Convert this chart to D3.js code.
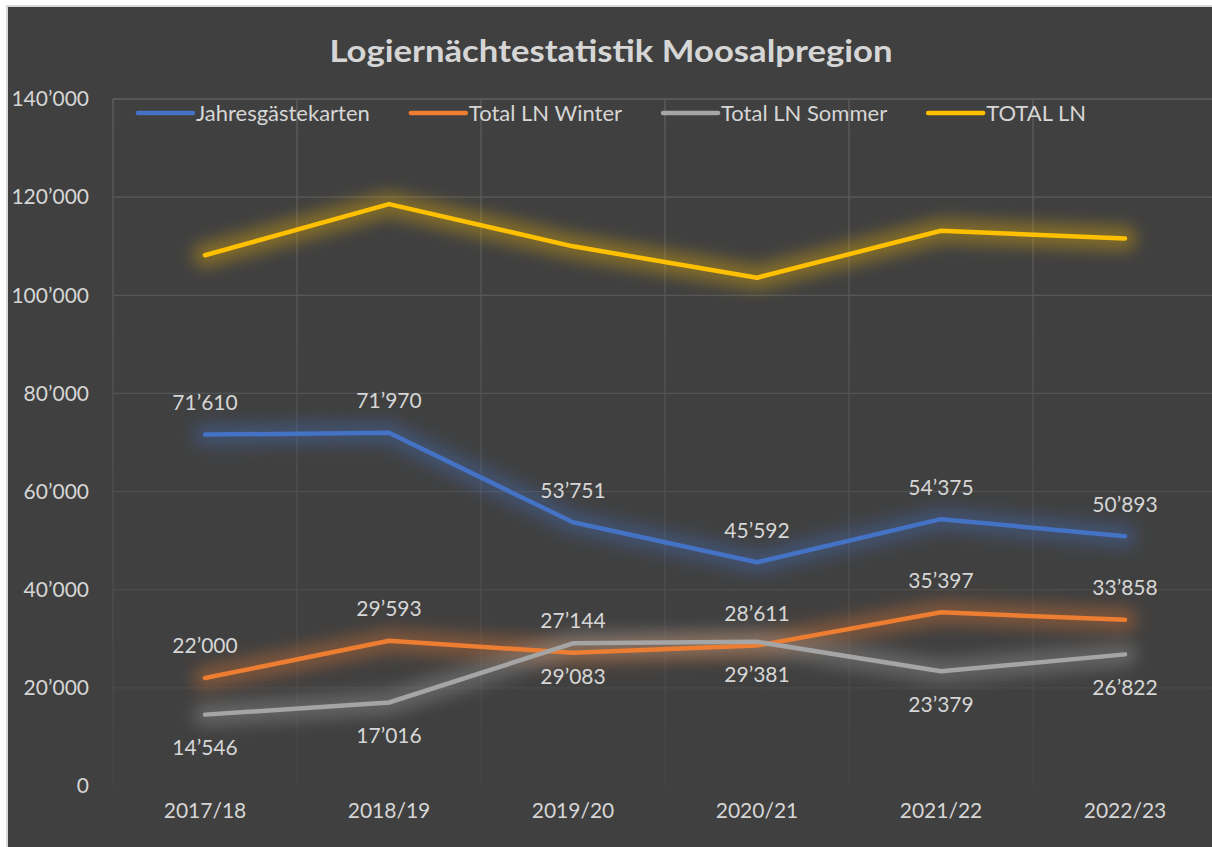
<!DOCTYPE html>
<html>
<head>
<meta charset="utf-8">
<script src="https://cdn.jsdelivr.net/npm/d3@7"></script>
<style>
  body { margin: 0; background: #fff; }
  svg { display: block; }
</style>
</head>
<body>
<svg id="chart" width="1212" height="847"></svg>
<script>
// Daten
const saisons = ["2017/18", "2018/19", "2019/20", "2020/21", "2021/22", "2022/23"];
const jahresgaestekarten = [71610, 71970, 53751, 45592, 54375, 50893];
const winterLN = [22000, 29593, 27144, 28611, 35397, 33858];
const sommerLN = [14546, 17016, 29083, 29381, 23379, 26822];
const totalLN = [108156, 118579, 109978, 103584, 113151, 111573];
const yTicks = [0, 20000, 40000, 60000, 80000, 100000, 120000, 140000];

const serien = [
    { name: "Jahresgästekarten", values: jahresgaestekarten, color: "#4472C4", label: "top" },
    { name: "Total LN Winter", values: winterLN, color: "#ED7D31", label: "top" },
    { name: "Total LN Sommer", values: sommerLN, color: "#A5A5A5", label: "bottom" },
    { name: "TOTAL LN", values: totalLN, color: "#FFC000", label: null }
];

const svg = d3.select("#chart");
const textColor = "#d6d6d6";
const font = "Lato, 'Open Sans', sans-serif";
const fmt = d => d3.format(",")(d).replace(/,/g, "’");

// Hintergrund + Rahmen
svg.append("rect")
    .attr("x", 7).attr("y", 6)
    .attr("width", 1230).attr("height", 860)
    .attr("fill", "#404040")
    .attr("stroke", "#d9d9d9")
    .attr("stroke-width", 2);

const defs = svg.append("defs");
defs.append("filter")
    .attr("id", "glow")
    .attr("x", "-20%").attr("y", "-50%")
    .attr("width", "140%").attr("height", "200%")
    .append("feGaussianBlur")
    .attr("stdDeviation", 8);

const gridGrad = defs.append("linearGradient")
    .attr("id", "gridGrad")
    .attr("gradientUnits", "userSpaceOnUse")
    .attr("x1", 0).attr("x2", 0)
    .attr("y1", 99).attr("y2", 786);
gridGrad.append("stop").attr("offset", "0").attr("stop-color", "#5e5e5e");
gridGrad.append("stop").attr("offset", "1").attr("stop-color", "#454545");

// Skalen
const x = d3.scaleBand()
    .domain(saisons)
    .range([113, 1217])
    .padding(0);
const y = d3.scaleLinear()
    .domain([0, 140000])
    .range([786, 99]);
const cx = (d) => x(d) + x.bandwidth() / 2;

// Gitter
const grid = svg.append("g").attr("stroke", "url(#gridGrad)").attr("stroke-width", 1.3);
grid.selectAll("line.h")
    .data(yTicks.filter(t => t > 0))
    .join("line")
    .attr("class", "h")
    .attr("x1", x.range()[0]).attr("x2", x.range()[1])
    .attr("y1", d => y(d)).attr("y2", d => y(d));
grid.selectAll("line.v")
    .data(saisons.concat(["end"]))
    .join("line")
    .attr("class", "v")
    .attr("x1", (d, i) => x.range()[0] + i * x.bandwidth())
    .attr("x2", (d, i) => x.range()[0] + i * x.bandwidth())
    .attr("y1", y(140000)).attr("y2", y(0));

// Achsen
const yAxis = d3.axisLeft(y)
    .tickValues(yTicks)
    .tickSize(0)
    .tickPadding(0)
    .tickFormat(fmt);
const gy = svg.append("g")
    .attr("transform", "translate(89,0)")
    .call(yAxis);
gy.select(".domain").remove();
gy.selectAll("text")
    .attr("fill", textColor)
    .style("font-family", font)
    .style("font-size", "21px");

const xAxis = d3.axisBottom(x).tickSize(0).tickPadding(0);
const gx = svg.append("g")
    .attr("transform", "translate(0,803)")
    .call(xAxis);
gx.select(".domain").remove();
gx.selectAll("text")
    .attr("fill", textColor)
    .style("font-family", font)
    .style("font-size", "21px");

// Linien
const line = d3.line()
    .x((d, i) => cx(saisons[i]))
    .y(d => y(d));

const serienG = svg.append("g");
serien.forEach(s => {
    serienG.append("path")
        .attr("d", line(s.values))
        .attr("fill", "none")
        .attr("stroke", s.color)
        .attr("stroke-width", 24)
        .attr("stroke-linejoin", "round")
        .attr("stroke-linecap", "round")
        .attr("opacity", 0.35)
        .attr("filter", "url(#glow)");
});
serien.forEach(s => {
    serienG.append("path")
        .attr("d", line(s.values))
        .attr("fill", "none")
        .attr("stroke", s.color)
        .attr("stroke-width", 4.5)
        .attr("stroke-linejoin", "round")
        .attr("stroke-linecap", "round");
});

// Datenbeschriftungen
serien.filter(s => s.label).forEach(s => {
    svg.append("g").selectAll("text")
        .data(s.values)
        .join("text")
        .attr("x", (d, i) => cx(saisons[i]))
        .attr("y", d => y(d) + (s.label === "top" ? -32 : 33))
        .attr("dy", "0.35em")
        .attr("text-anchor", "middle")
        .attr("fill", textColor)
        .style("font-family", font)
        .style("font-size", "21px")
        .text(fmt);
});

// Titel
svg.append("text")
    .attr("x", 611)
    .attr("y", 62)
    .attr("text-anchor", "middle")
    .attr("fill", textColor)
    .attr("textLength", 563)
    .attr("lengthAdjust", "spacingAndGlyphs")
    .style("font-family", font)
    .style("font-weight", "bold")
    .style("font-size", "31px")
    .text("Logiernächtestatistik Moosalpregion");

// Legende
const legend = svg.append("g").attr("transform", "translate(0,113)");
const items = legend.selectAll("g")
    .data(serien)
    .join("g");
items.append("line")
    .attr("x1", 0).attr("x2", 55)
    .attr("y1", 0).attr("y2", 0)
    .attr("stroke", d => d.color)
    .attr("stroke-width", 4.5)
    .attr("stroke-linecap", "round");
items.append("text")
    .attr("x", 58)
    .attr("dy", "0.35em")
    .attr("fill", textColor)
    .style("font-family", font)
    .style("font-size", "22px")
    .text(d => d.name);
let widths = [];
items.each(function() {
    widths.push(58 + d3.select(this).select("text").node().getComputedTextLength());
});
const gap = 41;
const totalWidth = d3.sum(widths) + gap * (widths.length - 1);
let pos = 612 - totalWidth / 2;
items.attr("transform", (d, i) => {
    const t = "translate(" + pos + ",0)";
    pos += widths[i] + gap;
    return t;
});
</script>
</body>
</html>
